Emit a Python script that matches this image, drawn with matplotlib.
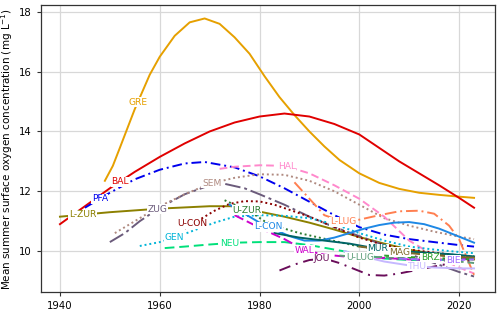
import matplotlib
matplotlib.use("Agg")
import matplotlib.pyplot as plt
import numpy as np

# ---- data ----
gre_years = [1949, 1950.6, 1952, 1955, 1958, 1960, 1963, 1966, 1969, 1972, 1975, 1978, 1981, 1984, 1987, 1990, 1993, 1996, 2000, 2004, 2008, 2012, 2016, 2020, 2023]
gre_vals  = [12.35, 12.85, 13.45, 14.75, 15.9, 16.5, 17.2, 17.65, 17.78, 17.6, 17.15, 16.6, 15.85, 15.15, 14.55, 14.0, 13.5, 13.05, 12.6, 12.28, 12.08, 11.95, 11.88, 11.82, 11.78]

bal_years = [1940, 1945, 1950, 1955, 1960, 1965, 1970, 1975, 1980, 1985, 1990, 1995, 2000, 2004, 2008, 2012, 2016, 2020, 2023]
bal_vals  = [10.9, 11.5, 12.1, 12.65, 13.15, 13.6, 14.0, 14.3, 14.5, 14.6, 14.5, 14.25, 13.9, 13.45, 13.0, 12.6, 12.2, 11.78, 11.45]

pfa_years = [1945, 1950, 1955, 1960, 1965, 1969, 1975, 1980, 1985, 1990, 1995, 2000, 2005, 2010, 2015, 2020, 2023]
pfa_vals  = [11.45, 11.95, 12.4, 12.72, 12.93, 12.98, 12.8, 12.5, 12.1, 11.65, 11.2, 10.8, 10.55, 10.4, 10.3, 10.2, 10.15]

lzur_years = [1940, 1950, 1960, 1970, 1975, 1980, 1985, 1990, 1995, 2000, 2005, 2010, 2015, 2020, 2023]
lzur_vals  = [11.15, 11.3, 11.42, 11.5, 11.5, 11.32, 11.15, 10.95, 10.72, 10.47, 10.25, 10.05, 9.9, 9.78, 9.72]

zug_years = [1950, 1953, 1956, 1960, 1965, 1970, 1973, 1977, 1980, 1985, 1990, 1995, 2000, 2005, 2010, 2015, 2020, 2023]
zug_vals  = [10.3, 10.6, 11.0, 11.45, 11.9, 12.2, 12.25, 12.1, 11.9, 11.55, 11.15, 10.8, 10.5, 10.2, 9.9, 9.6, 9.3, 9.15]

sem_years = [1951, 1955, 1960, 1965, 1970, 1975, 1980, 1985, 1990, 1995, 2000, 2005, 2010, 2015, 2020, 2023]
sem_vals  = [10.6, 11.0, 11.5, 11.9, 12.25, 12.45, 12.57, 12.55, 12.35, 12.0, 11.55, 11.1, 10.85, 10.65, 10.48, 10.4]

hal_years = [1972, 1975, 1980, 1985, 1990, 1995, 2000, 2005, 2010, 2015, 2020, 2023]
hal_vals  = [12.75, 12.82, 12.87, 12.85, 12.6, 12.2, 11.75, 11.15, 10.35, 9.85, 9.45, 9.25]

llug_years = [1987, 1990, 1993, 1997, 2000, 2004, 2008, 2012, 2015, 2018, 2020, 2022, 2023]
llug_vals  = [12.3, 11.75, 11.2, 10.97, 11.05, 11.2, 11.33, 11.35, 11.25, 10.85, 10.4, 9.6, 9.2]

ucon_years = [1965, 1968, 1971, 1974, 1977, 1980, 1983, 1986, 1990, 1995, 2000, 2005, 2010, 2015, 2020, 2023]
ucon_vals  = [10.75, 11.05, 11.35, 11.58, 11.67, 11.66, 11.55, 11.38, 11.15, 10.8, 10.45, 10.2, 10.05, 9.95, 9.85, 9.8]

gen_years = [1956, 1960, 1963, 1967, 1971, 1975, 1980, 1985, 1990, 1995, 2000, 2005, 2010, 2015, 2020, 2023]
gen_vals  = [10.17, 10.3, 10.45, 10.7, 10.95, 11.15, 11.2, 11.18, 11.1, 10.9, 10.6, 10.35, 10.15, 10.05, 9.97, 9.93]

neu_years = [1961, 1965, 1970, 1975, 1980, 1985, 1990, 1995, 2000, 2005, 2010, 2015, 2020, 2023]
neu_vals  = [10.1, 10.15, 10.22, 10.28, 10.3, 10.3, 10.2, 10.05, 9.9, 9.75, 9.7, 9.7, 9.72, 9.75]

uzur_years = [1973, 1975, 1978, 1981, 1984, 1988, 1992, 1996, 2000, 2005, 2010, 2015, 2020, 2023]
uzur_vals  = [11.7, 11.55, 11.33, 11.0, 10.8, 10.6, 10.45, 10.3, 10.15, 10.05, 9.95, 9.9, 9.85, 9.82]

lcon_years = [1974, 1977, 1980, 1983, 1986, 1989, 1992, 1995, 1998, 2001, 2004, 2007, 2010, 2013, 2016, 2019, 2023]
lcon_vals  = [11.55, 11.25, 10.95, 10.72, 10.5, 10.35, 10.35, 10.45, 10.6, 10.75, 10.87, 10.95, 10.97, 10.9, 10.75, 10.55, 10.28]

mur_years = [1983, 1988, 1993, 1998, 2003, 2008, 2013, 2018, 2023]
mur_vals  = [10.6, 10.45, 10.35, 10.25, 10.1, 10.0, 9.95, 9.9, 9.82]

wal_years = [1975, 1978, 1981, 1985, 1989, 1993, 1997, 2001, 2005, 2010, 2015, 2020, 2023]
wal_vals  = [11.2, 10.95, 10.7, 10.4, 10.03, 9.88, 9.82, 9.8, 9.77, 9.72, 9.7, 9.72, 9.75]

jou_years = [1984, 1987, 1990, 1993, 1996, 1999, 2002, 2005, 2008, 2011, 2014, 2017, 2020, 2023]
jou_vals  = [9.35, 9.55, 9.7, 9.75, 9.6, 9.4, 9.2, 9.18, 9.25, 9.35, 9.45, 9.55, 9.65, 9.7]

ulug_years = [1996, 2000, 2005, 2010, 2015, 2020, 2023]
ulug_vals  = [9.85, 9.8, 9.8, 9.75, 9.7, 9.65, 9.6]

mag_years = [2000, 2005, 2008, 2012, 2016, 2020, 2023]
mag_vals  = [10.15, 10.05, 9.97, 9.9, 9.85, 9.8, 9.78]

brz_years = [2005, 2010, 2014, 2018, 2023]
brz_vals  = [9.85, 9.8, 9.77, 9.75, 9.72]

bie_years = [2008, 2012, 2016, 2019, 2023]
bie_vals  = [9.75, 9.72, 9.7, 9.7, 9.72]

thu_years = [1997, 2000, 2005, 2010, 2015, 2020, 2023]
thu_vals  = [10.0, 9.85, 9.65, 9.52, 9.45, 9.42, 9.42]

names = ["GRE", "BAL", "PFA", "L-ZUR", "ZUG", "SEM", "HAL", "L-LUG", "U-CON", "GEN",
         "NEU", "U-ZUR", "L-CON", "MUR", "WAL", "JOU", "U-LUG", "MAG", "BRZ", "BIE", "THU"]
label_x = [1955.6, 1952, 1948, 1944.5, 1959.5, 1970.4, 1985.5, 1996.7, 1966.6, 1963,
           1974, 1977.5, 1981.7, 2003.7, 1989, 1992.5, 2000.1, 2008.1, 2014.2, 2018.8, 2011.6]

series = [
    (gre_years, gre_vals, "#e6a000", "-"),
    (bal_years, bal_vals, "#e00000", "-"),
    (pfa_years, pfa_vals, "#0000ee", (0, (5, 2, 1, 2))),
    (lzur_years, lzur_vals, "#8c8000", "-"),
    (zug_years, zug_vals, "#6b5b7b", (0, (8, 2, 1.5, 2))),
    (sem_years, sem_vals, "#b08a80", (0, (1, 1.5))),
    (hal_years, hal_vals, "#ff88cc", (0, (4, 2))),
    (llug_years, llug_vals, "#ff7f50", (0, (6, 2, 1, 2))),
    (ucon_years, ucon_vals, "#8b0000", (0, (1, 1.5))),
    (gen_years, gen_vals, "#00b4d8", (0, (1, 1.5))),
    (neu_years, neu_vals, "#00e07a", (0, (5, 2.5))),
    (uzur_years, uzur_vals, "#2e7d32", (0, (1, 1.5))),
    (lcon_years, lcon_vals, "#1e88e5", "-"),
    (mur_years, mur_vals, "#006466", "-"),
    (wal_years, wal_vals, "#cc00cc", (0, (5, 2))),
    (jou_years, jou_vals, "#6a0d5a", (0, (6, 3, 1, 3))),
    (ulug_years, ulug_vals, "#5f9e7a", (0, (4, 2))),
    (mag_years, mag_vals, "#7f6a2a", "-"),
    (brz_years, brz_vals, "#2ca02c", (0, (4, 2))),
    (bie_years, bie_vals, "#9f6bff", (0, (4, 2))),
    (thu_years, thu_vals, "#c6b8ff", "-"),
]

fig = plt.figure(figsize=(5, 3.13), dpi=100)
ax = fig.add_axes([0.082, 0.067, 0.908, 0.917])

for (xs, ys, col, ls), name, lx in zip(series, names, label_x):
    ax.plot(xs, ys, color=col, linestyle=ls, lw=1.4, zorder=2)
    ly = float(np.interp(lx, xs, ys))
    ax.text(lx, ly, name, color=col, fontsize=6.6, ha="center", va="center", zorder=5,
            bbox=dict(boxstyle="square,pad=0.05", fc="white", ec="none"))

ax.set_xlim(1936.2, 2027.2)
ax.set_ylim(8.63, 18.23)
ax.set_xticks([1940, 1960, 1980, 2000, 2020])
ax.set_yticks([10, 12, 14, 16, 18])
ax.tick_params(labelsize=7.3, length=3, width=0.8, color="#333333")
ax.grid(True, color="#d8d8d8", lw=0.9)
ax.set_axisbelow(True)
for s in ax.spines.values():
    s.set_color("#333333")
    s.set_linewidth(0.9)
ax.set_ylabel("Mean summer surface oxygen concentration (mg L$^{-1}$)", fontsize=7.5, labelpad=3)

fig.savefig("out.png", dpi=100)
